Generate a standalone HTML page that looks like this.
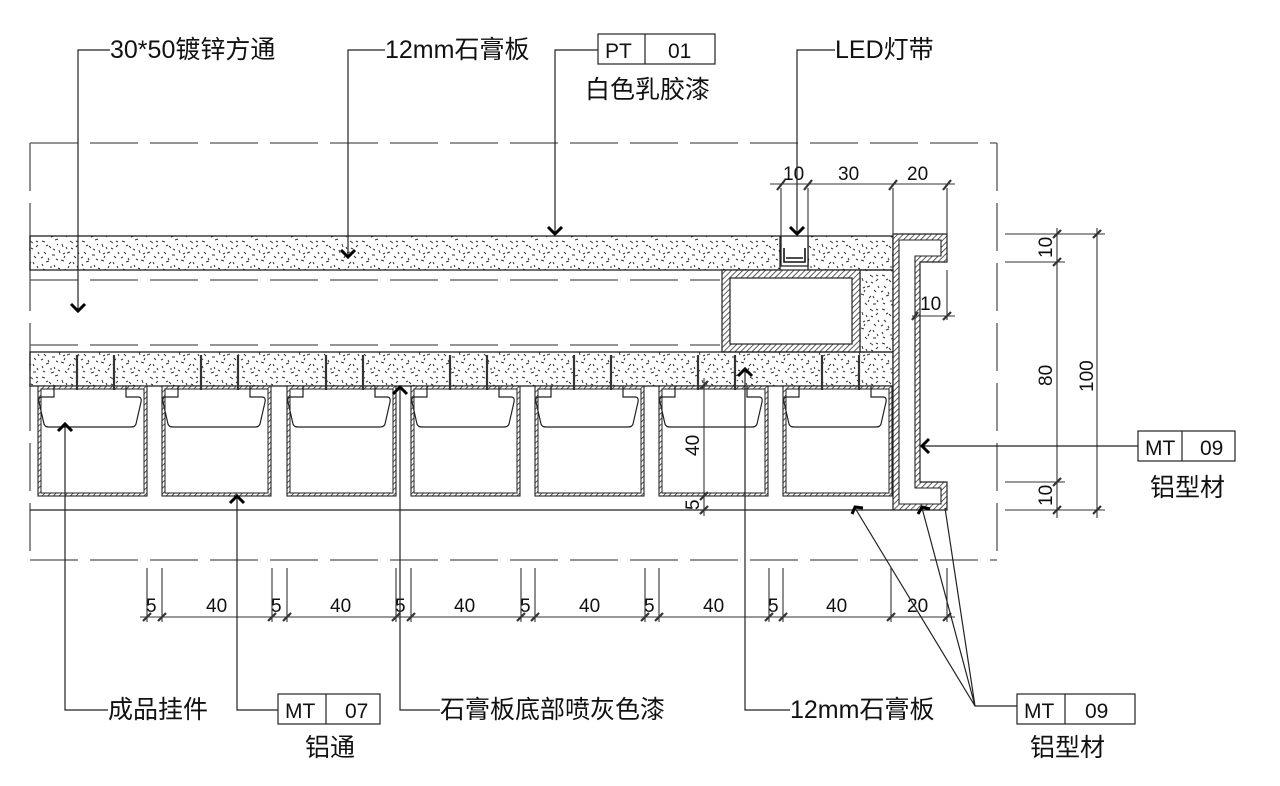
<!DOCTYPE html>
<html><head><meta charset="utf-8"><style>
html,body{margin:0;padding:0;background:#fff}
svg{display:block}
text{font-family:"Liberation Sans","Noto Sans CJK SC",sans-serif;fill:#111}
.cj{font-size:25px;font-family:"Liberation Serif","Noto Serif CJK SC",serif}
.dm{font-size:19px;fill:#333}
</style></head><body>
<svg width="1280" height="786" viewBox="0 0 1280 786" xmlns="http://www.w3.org/2000/svg">
<defs>
<pattern id="sp" width="40" height="34" patternUnits="userSpaceOnUse">
<g stroke="#333" stroke-width="1">
<path d="M2 3l3 1M9 8l2 2M15 2l3-1M22 6l1 3M30 3l3 2M36 9l2-2M4 14l2 2M12 17l3 0M19 12l1 3M27 15l3-1M34 18l2 2M6 24l3-1M14 27l1 2M21 22l3 1M29 26l2-2M37 28l1 2M3 31l2 1M11 33l3-1M25 31l2 2M33 32l3 0M17 6l1 1M8 20l1 2M31 10l2 1M24 20l1-2M38 14l1 2M1 20l2 -1M18 30l2 1M6 8l2-1M26 9l1 2M13 11l2 1M33 24l1 2M10 29l2 0M23 16l2-1M36 3l2 1M28 30l1-2M16 21l2 1M2 26l1 2"/>
</g>
</pattern>
<pattern id="ht" width="4" height="4" patternUnits="userSpaceOnUse" patternTransform="rotate(45)">
<rect width="4" height="4" fill="#fff"/><line x1="0" y1="0" x2="0" y2="4" stroke="#333" stroke-width="1.6"/>
</pattern>
</defs>

<g fill="none" stroke="#555" stroke-width="1.3" stroke-dasharray="48,12">
<line x1="30" y1="143" x2="997" y2="143"/>
<line x1="30" y1="560" x2="997" y2="560"/>
<line x1="30" y1="143" x2="30" y2="560"/>
<line x1="997" y1="143" x2="997" y2="560"/>
<line x1="30" y1="280" x2="720" y2="280"/>
<line x1="30" y1="345" x2="720" y2="345"/>
</g>

<rect x="30" y="236" width="750" height="34" fill="url(#sp)" stroke="#222" stroke-width="1.3"/>
<rect x="808" y="236" width="85" height="34" fill="url(#sp)" stroke="#222" stroke-width="1.3"/>
<rect x="781" y="236" width="27" height="30" fill="#fff" stroke="#222" stroke-width="1.3"/>
<path d="M784 248v14h21v-14M786 258h17" fill="none" stroke="#111" stroke-width="1.6"/>
<rect x="860" y="270" width="33" height="82" fill="url(#sp)" stroke="#222" stroke-width="1.2"/>
<rect x="722" y="270" width="138" height="82" fill="url(#ht)" stroke="#222" stroke-width="1.2"/>
<rect x="730" y="278" width="122" height="66" fill="#fff" stroke="#222" stroke-width="1.2"/>
<rect x="30" y="352" width="863" height="34" fill="url(#sp)" stroke="#222" stroke-width="1.3"/>
<line x1="30" y1="510" x2="893" y2="510" stroke="#222" stroke-width="1.3"/>

<g id="bx">
<rect x="38" y="386" width="109" height="110" fill="url(#ht)" stroke="#222" stroke-width="1.1"/>
<rect x="41" y="389" width="103" height="104" fill="#fff" stroke="#222" stroke-width="1"/>
<path d="M54 386v11h-12q-4 0-3 5l5 22q1 3 5 3h82q4 0 5-3l5-22q1-5-3-5h-12v-11" fill="none" stroke="#222" stroke-width="1.2"/>
<path d="M77 355v35M114 355v35" stroke="#333" stroke-width="2.2"/>
</g>
<use href="#bx" x="124"/><use href="#bx" x="249"/><use href="#bx" x="373"/><use href="#bx" x="497"/><use href="#bx" x="621"/><use href="#bx" x="745"/>

<path d="M893 234H947V262H920V482H947V510H893Z" fill="url(#ht)" stroke="#222" stroke-width="1.2"/>
<path d="M899 240H941V256H915V488H941V504H899Z" fill="#fff" stroke="#222" stroke-width="1.1"/>

<g stroke="#333" stroke-width="1.1" fill="none">
<line x1="770" y1="184" x2="955" y2="184"/>
<path d="M781 188V236M808 188V236M893 188V234M947 188V234"/>
<path d="M777 190l8-10M804 190l8-10M889 190l8-10M943 190l8-10" stroke-width="2.2"/>
<line x1="912" y1="316" x2="955" y2="316"/><line x1="947" y1="270" x2="947" y2="320"/>
<path d="M912 320l6-8M943 320l8-8" stroke-width="2.2"/>
<path d="M1005 234H1105M1005 262H1065M1005 482H1065M1005 510H1105"/>
<line x1="1057" y1="228" x2="1057" y2="518"/><line x1="1097" y1="228" x2="1097" y2="518"/>
<path d="M1053 238l8-8M1053 266l8-8M1053 486l8-8M1053 514l8-8M1093 238l8-8M1093 514l8-8" stroke-width="2.2"/>
<line x1="140" y1="617" x2="955" y2="617"/>
<path d="M147 568V622M162 568V622M272 568V622M287 568V622M396 568V622M411 568V622M521 568V622M535 568V622M645 568V622M659 568V622M769 568V622M783 568V622M891 568V622M947 568V622"/>
<path d="M143 621l8-8M158 621l8-8M268 621l8-8M283 621l8-8M392 621l8-8M407 621l8-8M517 621l8-8M531 621l8-8M641 621l8-8M655 621l8-8M765 621l8-8M779 621l8-8M887 621l8-8M943 621l8-8" stroke-width="2.2"/>
<line x1="704" y1="378" x2="704" y2="516"/>
<path d="M700 389l8-8M700 500l8-8M700 514l8-8" stroke-width="2.2"/>
</g>
<g class="dm">
<text x="783" y="180">10</text><text x="838" y="180">30</text><text x="907" y="180">20</text>
<text x="920" y="310">10</text>
<text x="146" y="612">5</text><text x="206" y="612">40</text>
<text x="271" y="612">5</text><text x="330" y="612">40</text>
<text x="395" y="612">5</text><text x="454" y="612">40</text>
<text x="520" y="612">5</text><text x="579" y="612">40</text>
<text x="644" y="612">5</text><text x="703" y="612">40</text>
<text x="768" y="612">5</text><text x="826" y="612">40</text>
<text x="907" y="612">20</text>
<text transform="translate(1052,258) rotate(-90)">10</text>
<text transform="translate(1052,386) rotate(-90)">80</text>
<text transform="translate(1052,506) rotate(-90)">10</text>
<text transform="translate(1093,392) rotate(-90)">100</text>
<text transform="translate(699,456) rotate(-90)">40</text>
<text transform="translate(699,510) rotate(-90)">5</text>
</g>

<g stroke="#222" stroke-width="1.2" fill="none">
<path d="M110 50H78V310M385 50H348V255M598 50H555V232M835 50H797V232"/>
<path d="M1138 446H922"/>
<path d="M108 710H65V425M278 710H237V497M440 710H400V388M790 710H745V370"/>
<path d="M1017 706H975L855 508M975 706L922 508M975 706L945 508"/>
</g>
<g stroke="#000" stroke-width="3" fill="none">
<path d="M71 304l7 7 7-7M341 250l7 7 7-7M548 227l7 7 7-7M790 227l7 7 7-7"/>
<path d="M929 439l-7 7 7 7"/>
<path d="M58 431l7-7 7 7M230 503l7-7 7 7M393 394l7-7 7 7M738 376l7-7 7 7"/>
<path d="M852 514l3-7 8 1M918 514l4-7 8 2"/>
</g>

<g stroke="#222" stroke-width="1.2" fill="none">
<rect x="598" y="34" width="117" height="30"/><line x1="645" y1="34" x2="645" y2="64"/>
<rect x="1138" y="431" width="97" height="30"/><line x1="1182" y1="431" x2="1182" y2="461"/>
<rect x="278" y="694" width="102" height="30"/><line x1="326" y1="694" x2="326" y2="724"/>
<rect x="1017" y="694" width="118" height="30"/><line x1="1065" y1="694" x2="1065" y2="724"/>
</g>
<g class="dm" style="font-size:21px">
<text x="605" y="58">PT</text><text x="668" y="58">01</text>
<text x="1145" y="455">MT</text><text x="1200" y="455">09</text>
<text x="285" y="718">MT</text><text x="345" y="718">07</text>
<text x="1024" y="718">MT</text><text x="1085" y="718">09</text>
</g>
<g class="cj">
<text x="110" y="58">30*50镀锌方通</text>
<text x="385" y="58">12mm石膏板</text>
<text x="585" y="98">白色乳胶漆</text>
<text x="835" y="58">LED灯带</text>
<text x="1150" y="496">铝型材</text>
<text x="108" y="718">成品挂件</text>
<text x="305" y="756">铝通</text>
<text x="440" y="718">石膏板底部喷灰色漆</text>
<text x="790" y="718">12mm石膏板</text>
<text x="1030" y="756">铝型材</text>
</g>
</svg>
</body></html>
